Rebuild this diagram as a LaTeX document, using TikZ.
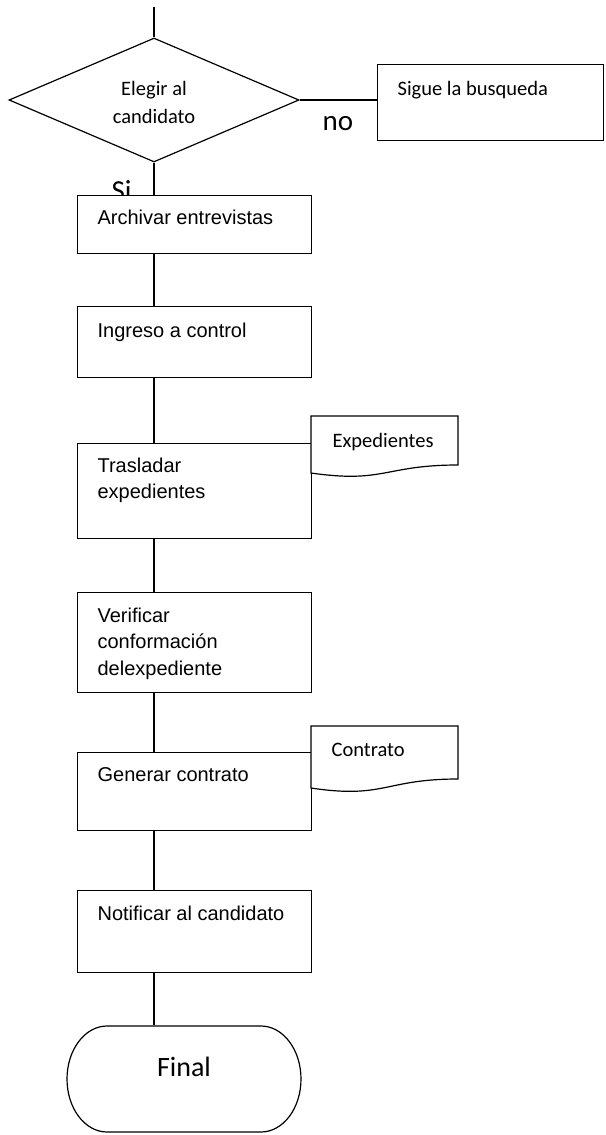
\documentclass[tikz,border=0pt]{standalone}
\usepackage{fontspec}
\setmainfont{Liberation Sans}
\newfontfamily\calibrifont{Carlito}
\usetikzlibrary{shapes.geometric}
\begin{document}
\begin{tikzpicture}[x=1pt,y=-1pt,line width=1.2pt,
  box/.style={draw,rectangle,anchor=north west,inner sep=0pt,fill=white,minimum width=234pt},
  atxt/.style={font=\fontsize{20}{24}\selectfont,anchor=base west,inner sep=0pt},
  ctxt/.style={font=\calibrifont\fontsize{20.5}{24}\selectfont,inner sep=0pt},
  bigtxt/.style={font=\calibrifont\fontsize{29}{34}\selectfont,inner sep=0pt,anchor=base west}]
\useasboundingbox (0,0) rectangle (605,1135);
% decision
\coordinate (start) at (154,7);
\node[draw,diamond,aspect=2.34,minimum width=290pt,minimum height=124pt,inner sep=0pt] (dec) at (154,100) {};
\node[ctxt,anchor=base] (dt1) at (154,95) {Elegir al};
\node[ctxt,anchor=base] (dt2) at (154,123) {candidato};
\draw (start) -- (dec.north);
% no branch
\node[box,minimum width=226pt,minimum height=76pt] (sig) at (377,64) {};
\node[ctxt,anchor=base west] (sigt) at (397,95) {Sigue la busqueda};
\draw (dec.east) -- (dec.east -| sig.west);
\node[bigtxt] (no) at (322,130) {no};
% Si label (partly covered by box)
\node[bigtxt] (si) at (111,200) {Si};
% boxes
\node[box,minimum height=58pt] (b1) at (77,195) {};
\node[atxt] (t1) at (97,224) {Archivar entrevistas};
\node[box,minimum height=71pt] (b2) at (77,306) {};
\node[atxt] (t2) at (97,337) {Ingreso a control};
\node[box,minimum height=95pt] (b3) at (77,443) {};
\node[atxt] (t3a) at (97,472) {Trasladar};
\node[atxt] (t3b) at (97,498.5) {expedientes};
\node[box,minimum height=100pt] (b4) at (77,592) {};
\node[atxt] (t4a) at (97,622) {Verificar};
\node[atxt] (t4b) at (97,648.5) {conformación};
\node[atxt] (t4c) at (97,675) {delexpediente};
\node[box,minimum height=78pt] (b5) at (77,752) {};
\node[atxt] (t5) at (97,781) {Generar contrato};
\node[box,minimum height=82pt] (b6) at (77,890) {};
\node[atxt] (t6) at (97,920) {Notificar al candidato};
% documents
\draw[fill=white] (311,473) -- (311,416) -- (458,416) -- (458,465)
  .. controls (384.5,465) and (384.5,483.6) .. (311,473) -- cycle;
\node[ctxt,anchor=base west] (doc1) at (332,447) {Expedientes};
\draw[fill=white] (311,788) -- (311,726) -- (458,726) -- (458,779)
  .. controls (384.5,779) and (384.5,799.1) .. (311,788) -- cycle;
\node[ctxt,anchor=base west] (doc2) at (331,756) {Contrato};
% terminal
\node[minimum width=234pt,minimum height=106pt,inner sep=0pt] (fin) at (184,1079) {};
\draw (107,1026) -- (261,1026) arc[start angle=90,end angle=-90,x radius=40pt,y radius=53pt]
  -- (107,1132) arc[start angle=-90,end angle=-270,x radius=40pt,y radius=53pt] -- cycle;
\node[font=\calibrifont\fontsize{28}{32}\selectfont,inner sep=0pt,anchor=base] (fint) at (184,1076) {Final};
% connectors
\coordinate (lx) at (154,0);
\draw (dec.south) -- (dec.south |- b1.north);
\draw (b1.south -| lx) -- (b2.north -| lx);
\draw (b2.south -| lx) -- (b3.north -| lx);
\draw (b3.south -| lx) -- (b4.north -| lx);
\draw (b4.south -| lx) -- (b5.north -| lx);
\draw (b5.south -| lx) -- (b6.north -| lx);
\draw (b6.south -| lx) -- (fin.north -| lx);
\end{tikzpicture}
\end{document}
